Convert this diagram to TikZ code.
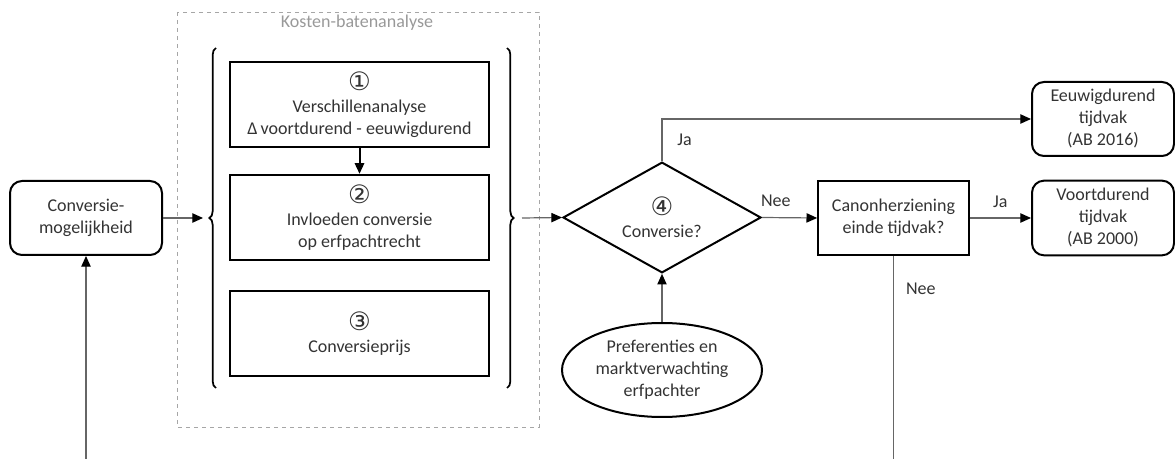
\documentclass[tikz,border=0pt]{standalone}
\usepackage{fontspec}
\setmainfont{Carlito}
\newfontfamily\circfont{DejaVu Sans}
\usepackage{tikz}
\usetikzlibrary{arrows.meta}
\usetikzlibrary{shapes.geometric}
\usetikzlibrary{decorations.pathreplacing}
\tikzset{
	blok/.style={draw, line width=1.5pt, align=center, inner sep=2pt, text=black!80},
	eind/.style={blok, rounded corners=9pt},
	lijn/.style={draw=black!60, line width=0.9pt},
	pijl/.style={lijn, -{Triangle[length=8pt,width=7pt,color=black]}},
	lbl/.style={text=black!80, inner sep=1pt},
	accolade/.style={line width=1.3pt, decorate, decoration={brace, amplitude=5pt}}
}
\newcommand{\nr}[1]{{\circfont\fontsize{19}{17}\selectfont #1}}

\begin{document}
\begin{tikzpicture}[x=0.75pt, y=-0.75pt, font=\fontsize{13.5}{16.5}\selectfont]
\useasboundingbox (0,0) rectangle (1175,459);

\draw[dashed, black!35] (177,12) rectangle (539,427);
\node[text=black!40] (kba) at (357,23) {Kosten-batenanalyse};

\node[eind, minimum width=114pt, minimum height=55.5pt] (conv) at (86,218) {Conversie-\\mogelijkheid};
\node[blok, minimum width=194pt, minimum height=64pt] (b1) at (359.5,104.5) {\nr{①}\\Verschillenanalyse\\Δ\,voortdurend - eeuwigdurend};
\node[blok, minimum width=194pt, minimum height=64pt] (b2) at (359.5,217.5) {\nr{②}\\Invloeden conversie\\op erfpachtrecht};
\node[blok, minimum width=194pt, minimum height=64pt] (b3) at (359.5,333.5) {\nr{③}\\Conversieprijs};
\draw[accolade] (216,388) -- (216,48);
\draw[accolade] (507,48) -- (507,388);
\coordinate (lb) at (203,218);
\coordinate (rb) at (522,218);

\node[blok, diamond, aspect=1.8, inner sep=0pt, minimum width=148.5pt, minimum height=83pt] (vraag) at (662,217.5) {\nr{④}\\Conversie?};
\node[blok, ellipse, inner sep=0pt, minimum width=150pt, minimum height=70.5pt] (pref) at (662,370) {Preferenties en\\marktverwachting\\erfpachter};
\node[blok, minimum width=113pt, minimum height=56pt] (canon) at (893.5,218) {Canonherziening\\einde tijdvak?};
\node[eind, minimum width=106.5pt, minimum height=55.5pt] (eeuw) at (1103,119) {Eeuwigdurend\\tijdvak\\(AB 2016)};
\node[eind, minimum width=106.5pt, minimum height=56pt] (voort) at (1103,218) {Voortdurend\\tijdvak\\(AB 2000)};

\draw[pijl] (conv.east) -- (lb);
\draw[pijl] (rb) -- (vraag.west);
\draw[line width=1.5pt, -{Triangle[length=8pt,width=7pt]}] (b1.south) -- (b2.north);
\draw[pijl] (pref.north) -- (vraag.south);
\draw[pijl] (vraag.north) |- node[lbl, pos=0.25, right=10pt] {Ja} (eeuw.west);
\path
	(vraag.east) edge[pijl] node[lbl, pos=0.25, above=7pt] {Nee} (canon.west)
	(canon.east) edge[pijl] node[lbl, midway, above=6pt] {Ja} (voort.west)
;
\draw[pijl] (canon.south) -- node[lbl, pos=0.15, right=8pt] {Nee} ++(0,215) -| (conv.south);
\end{tikzpicture}
\end{document}
